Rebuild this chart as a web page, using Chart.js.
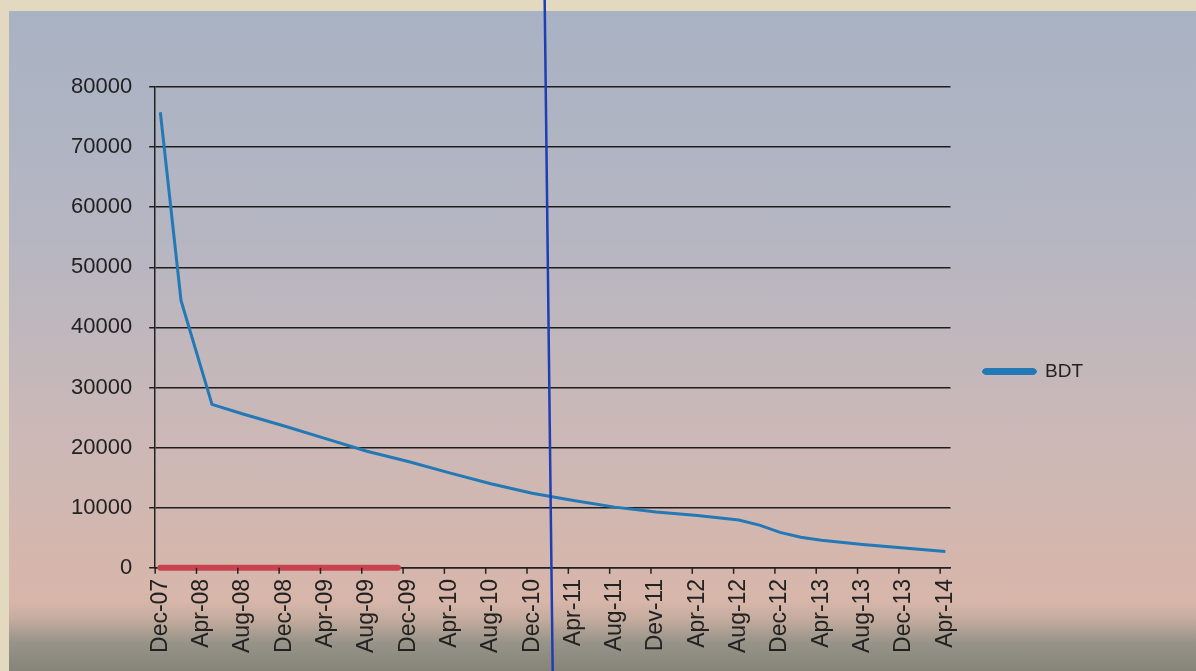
<!DOCTYPE html>
<html>
<head>
<meta charset="utf-8">
<script src="https://cdn.jsdelivr.net/npm/chart.js@4.4.1/dist/chart.umd.min.js"></script>
<style>
  html, body { margin: 0; padding: 0; }
  body { width: 1196px; height: 671px; background: #e3d8c0; position: relative; overflow: hidden; }
  #panel {
    position: absolute; left: 9px; top: 11px; right: 0; bottom: 0;
    background: linear-gradient(to bottom, #a8b2c3 0px, #b6b6c2 230px, #ccb8b6 430px, #d8b6aa 590px, #c4ac9e 608px, #979388 632px, #868479 660px);
  }
  #wrap { position: absolute; left: 0; top: 0; width: 1196px; height: 671px; }
</style>
</head>
<body>
<div id="panel"></div>
<div id="wrap"><canvas id="bdtChart"></canvas></div>
<script>
// etiquetas del eje x (cada 4 meses, desde Dec-07)
const tickLabels = ['Dec-07', 'Apr-08', 'Aug-08', 'Dec-08', 'Apr-09', 'Aug-09', 'Dec-09', 'Apr-10', 'Aug-10', 'Dec-10',
    'Apr-11', 'Aug-11', 'Dev-11', 'Apr-12', 'Aug-12', 'Dec-12', 'Apr-13', 'Aug-13', 'Dec-13', 'Apr-14'];

// serie BDT: mes (0 = Dec-07) y valor
const bdtMonths = [0, 2, 5, 8, 12, 16, 20, 24, 28, 32, 36, 40, 44, 48, 52, 56, 58, 60, 62, 64, 68, 72, 76];
const bdtValues = [75800, 44500, 27200, 25600, 23600, 21500, 19400, 17700, 15800, 14000, 12400, 11200, 10100,
    9300, 8700, 7950, 7100, 5900, 5100, 4600, 3900, 3300, 2700];

// barra roja sobre el cero
const redMonths = [0, 23];
const redValues = [0, 0];

// linea vertical azul (entre Jan-11 y Feb-11)
const markerMonth = 37.5;

Chart.defaults.font.family = '"Liberation Sans", Arial, sans-serif';
Chart.defaults.color = '#222';

const decorations = {
    id: 'decorations',
    afterDraw(chart) {
        const c = chart.ctx;
        const x = chart.scales.x;
        const area = chart.chartArea;
        c.save();
        // marcas del eje x en los bordes de cada grupo de 4 meses
        c.strokeStyle = '#222';
        c.lineWidth = 1.5;
        tickLabels.forEach((l, i) => {
            const px = x.getPixelForValue(i * 4 - 0.5);
            c.beginPath();
            c.moveTo(px, area.bottom);
            c.lineTo(px, area.bottom + 6);
            c.stroke();
        });
        // linea azul vertical
        const mx = x.getPixelForValue(markerMonth);
        c.strokeStyle = '#1d3fb3';
        c.lineWidth = 2.5;
        c.beginPath();
        c.moveTo(mx - 3, 0);
        c.lineTo(mx + 5, chart.height);
        c.stroke();
        c.restore();
    }
};

const ctx = document.getElementById('bdtChart').getContext('2d');
new Chart(ctx, {
    type: 'line',
    data: {
        datasets: [{
            label: 'BDT',
            data: bdtMonths.map((m, i) => ({ x: m, y: bdtValues[i] })),
            borderColor: '#2279b6',
            backgroundColor: '#2279b6',
            borderWidth: 3,
            pointRadius: 0,
            tension: 0
        }, {
            label: 'zero',
            data: redMonths.map((m, i) => ({ x: m, y: redValues[i] })),
            borderColor: '#c9424f',
            backgroundColor: '#c9424f',
            borderWidth: 6,
            borderCapStyle: 'round',
            pointRadius: 0,
            clip: 8
        }]
    },
    options: {
        responsive: true,
        maintainAspectRatio: false,
        animation: false,
        layout: { padding: { left: 54, right: 103, top: 87, bottom: 15 } },
        scales: {
            x: {
                type: 'linear',
                min: -0.5,
                max: 76.5,
                afterBuildTicks: axis => {
                    axis.ticks = tickLabels.map((l, i) => ({ value: i * 4 }));
                },
                grid: { display: false },
                border: { display: true, color: '#222', width: 1.5 },
                ticks: {
                    autoSkip: false,
                    maxRotation: 90,
                    minRotation: 90,
                    padding: 3,
                    font: { size: 23 },
                    callback: (v, i) => tickLabels[i]
                }
            },
            y: {
                min: 0,
                max: 80000,
                grid: { color: '#1e1e1e', lineWidth: 1.5, tickLength: 6 },
                border: { display: true, color: '#222', width: 1.5 },
                ticks: {
                    stepSize: 10000,
                    padding: 17,
                    font: { size: 22 },
                    callback: v => String(v)
                }
            }
        },
        plugins: {
            tooltip: { enabled: false },
            legend: {
                position: 'right',
                labels: {
                    filter: item => item.text === 'BDT',
                    boxWidth: 52,
                    boxHeight: 4,
                    useBorderRadius: true,
                    borderRadius: 3,
                    padding: 33,
                    font: { size: 19 },
                    color: '#222'
                }
            }
        }
    },
    plugins: [decorations]
});
</script>
</body>
</html>
